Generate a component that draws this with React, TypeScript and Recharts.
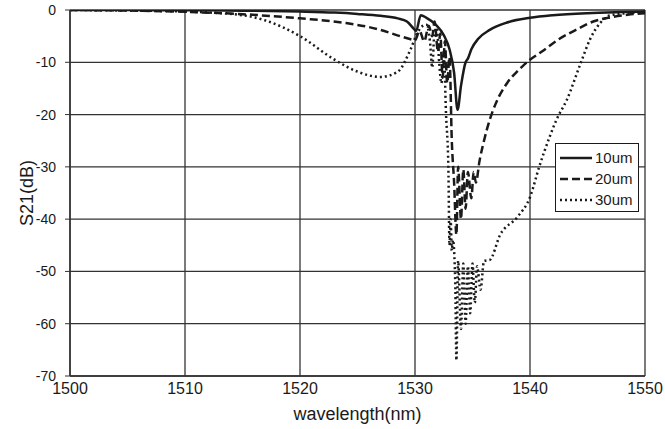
import React from "react";
import {
  LineChart,
  Line,
  XAxis,
  YAxis,
  CartesianGrid,
} from "recharts";

// transmission S21 (dB) vs wavelength (nm) for three lengths
const wl10 = [
  1500, 1505, 1510, 1515, 1520, 1523, 1525, 1527, 1528.5, 1529.3, 1529.9, 1530.1,
  1530.5, 1531.0, 1531.8, 1532.5, 1533.0, 1533.4, 1533.7, 1534.0, 1534.4, 1534.6,
  1534.9, 1535.5, 1536.5, 1538, 1540, 1542, 1545, 1548, 1550,
];
const s21_10 = [
  0, -0.02, -0.05, -0.12, -0.3, -0.5, -0.75, -1.1, -1.6, -2.2, -3.6, -4.0,
  -1.0, -1.5, -2.8, -4.8, -7.5, -12, -19.1, -14.5, -10, -9.3,
  -7.5, -5.5, -3.8, -2.4, -1.5, -1.0, -0.6, -0.4, -0.3,
];

const wl20 = [
  1500, 1505, 1510, 1515, 1520, 1524, 1527, 1528.7, 1529.8, 1530.0, 1530.4, 1530.8,
  1531.2, 1531.5, 1531.7, 1532.0, 1532.2, 1532.4, 1532.6, 1532.8, 1533.0, 1533.2,
  1533.4, 1533.6, 1533.75, 1534.0, 1534.2, 1534.4, 1534.6, 1534.9, 1535.1, 1535.3,
  1535.6, 1536.0, 1536.5, 1537, 1538, 1539, 1540, 1541, 1542.5, 1544, 1545.5, 1547,
  1548.5, 1550,
];
const s21_20 = [
  0, -0.1, -0.35, -0.8, -1.6, -2.5, -3.8, -5.0, -5.7, -5.8, -4.0, -6.0,
  -3.0, -5.0, -2.2, -8.0, -4.5, -13, -6, -14, -9, -25,
  -33, -43, -30, -40, -30.5, -38, -31, -36, -31, -33,
  -29, -25, -21, -18, -14, -11.5, -9.5, -8, -5.6, -3.8, -2.2, -1.4,
  -0.9, -0.6,
];

const wl30 = [
  1500, 1505, 1510, 1515, 1517, 1520, 1523, 1525, 1527, 1528.5, 1529.6, 1530.2,
  1530.7, 1531.0, 1531.3, 1531.5, 1531.7, 1531.9, 1532.1, 1532.3, 1532.5, 1532.7,
  1532.9, 1533.0, 1533.1, 1533.2, 1533.3, 1533.5, 1533.6, 1533.75, 1534.0, 1534.2,
  1534.4, 1534.6, 1534.8, 1535.0, 1535.2, 1535.4, 1535.7, 1536.0, 1536.5, 1537.4,
  1538.9, 1540, 1540.8, 1541.7, 1542.3, 1543.2, 1544.4, 1545.2, 1546.1, 1547,
  1548.5, 1550,
];
const s21_30 = [
  0, -0.1, -0.3, -1.0, -2.0, -5.0, -9.5, -11.8, -12.8, -11.8, -7.6, -4.4,
  -3.0, -2.8, -6, -11, -4, -3.5, -10, -14, -8, -20,
  -30, -45, -40, -46, -44, -52, -67, -48, -61, -48.5,
  -60, -49, -58, -48.5, -56, -49, -53.5, -48, -47.8, -43,
  -39.6, -35.8, -30, -24.3, -21, -17.2, -10.2, -5.7, -2.5, -1,
  -0.6, -0.4,
];

const seriesNames = ["10um", "20um", "30um"];
const dashes = ["", "8 4", "2 3"];

const xTicks = [1500, 1510, 1520, 1530, 1540, 1550];
const yTicks = [0, -10, -20, -30, -40, -50, -60, -70];

const toPoints = (xs: number[], ys: number[]) =>
  xs.map((x, i) => ({ x, y: ys[i] }));

const series = [
  toPoints(wl10, s21_10),
  toPoints(wl20, s21_20),
  toPoints(wl30, s21_30),
];

const INK = "#1a1a1a";
const font = "'Liberation Sans', Arial, sans-serif";

// key box sits inside the plot, over the right-hand grid
const LegendBox = () => (
  <div
    style={{
      position: "absolute",
      left: 555,
      top: 143,
      width: 84,
      height: 69,
      boxSizing: "border-box",
      border: `1.5px solid ${INK}`,
      background: "#fff",
      padding: "3px 4px",
      fontFamily: font,
      fontSize: 15,
      color: INK,
    }}
  >
    {seriesNames.map((name, i) => (
      <div key={name} style={{ display: "flex", alignItems: "center", height: 21 }}>
        <svg width={32} height={8} style={{ marginRight: 3 }}>
          <line
            x1={0}
            y1={4}
            x2={32}
            y2={4}
            stroke={INK}
            strokeWidth={2.5}
            strokeDasharray={dashes[i] || undefined}
          />
        </svg>
        <span>{name}</span>
      </div>
    ))}
  </div>
);

export default function App() {
  return (
    <div
      style={{
        position: "absolute",
        left: 0,
        top: 0,
        width: 665,
        height: 429,
        background: "#fff",
      }}
    >
      <LineChart
        width={665}
        height={429}
        margin={{ top: 10, right: 20, left: 0, bottom: 0 }}
      >
        <CartesianGrid stroke="#333" strokeWidth={1.3} />
        <XAxis
          dataKey="x"
          type="number"
          domain={[1500, 1550]}
          ticks={xTicks}
          allowDataOverflow
          height={53}
          tickSize={0}
          tickMargin={7}
          axisLine={{ stroke: "#333", strokeWidth: 1.5 }}
          tick={{ fill: INK, fontSize: 16, fontFamily: font }}
          label={{
            value: "wavelength(nm)",
            position: "insideBottom",
            offset: 9,
            fill: INK,
            fontSize: 18,
            fontFamily: font,
          }}
        />
        <YAxis
          type="number"
          domain={[-70, 0]}
          ticks={yTicks}
          allowDataOverflow
          width={70}
          tickSize={5}
          tickMargin={9}
          axisLine={{ stroke: "#333", strokeWidth: 1.5 }}
          tickLine={{ stroke: "#333" }}
          tick={{ fill: INK, fontSize: 14, fontFamily: font }}
          label={{
            value: "S21(dB)",
            angle: -90,
            position: "insideLeft",
            offset: 27,
            style: { textAnchor: "middle" },
            fill: INK,
            fontSize: 18,
            fontFamily: font,
          }}
        />
        {series.map((pts, i) => (
          <Line
            key={seriesNames[i]}
            name={seriesNames[i]}
            data={pts}
            dataKey="y"
            type="monotone"
            stroke={INK}
            strokeWidth={2.5}
            strokeDasharray={dashes[i] || undefined}
            dot={false}
            activeDot={false}
            isAnimationActive={false}
          />
        ))}
      </LineChart>
      <LegendBox />
    </div>
  );
}
